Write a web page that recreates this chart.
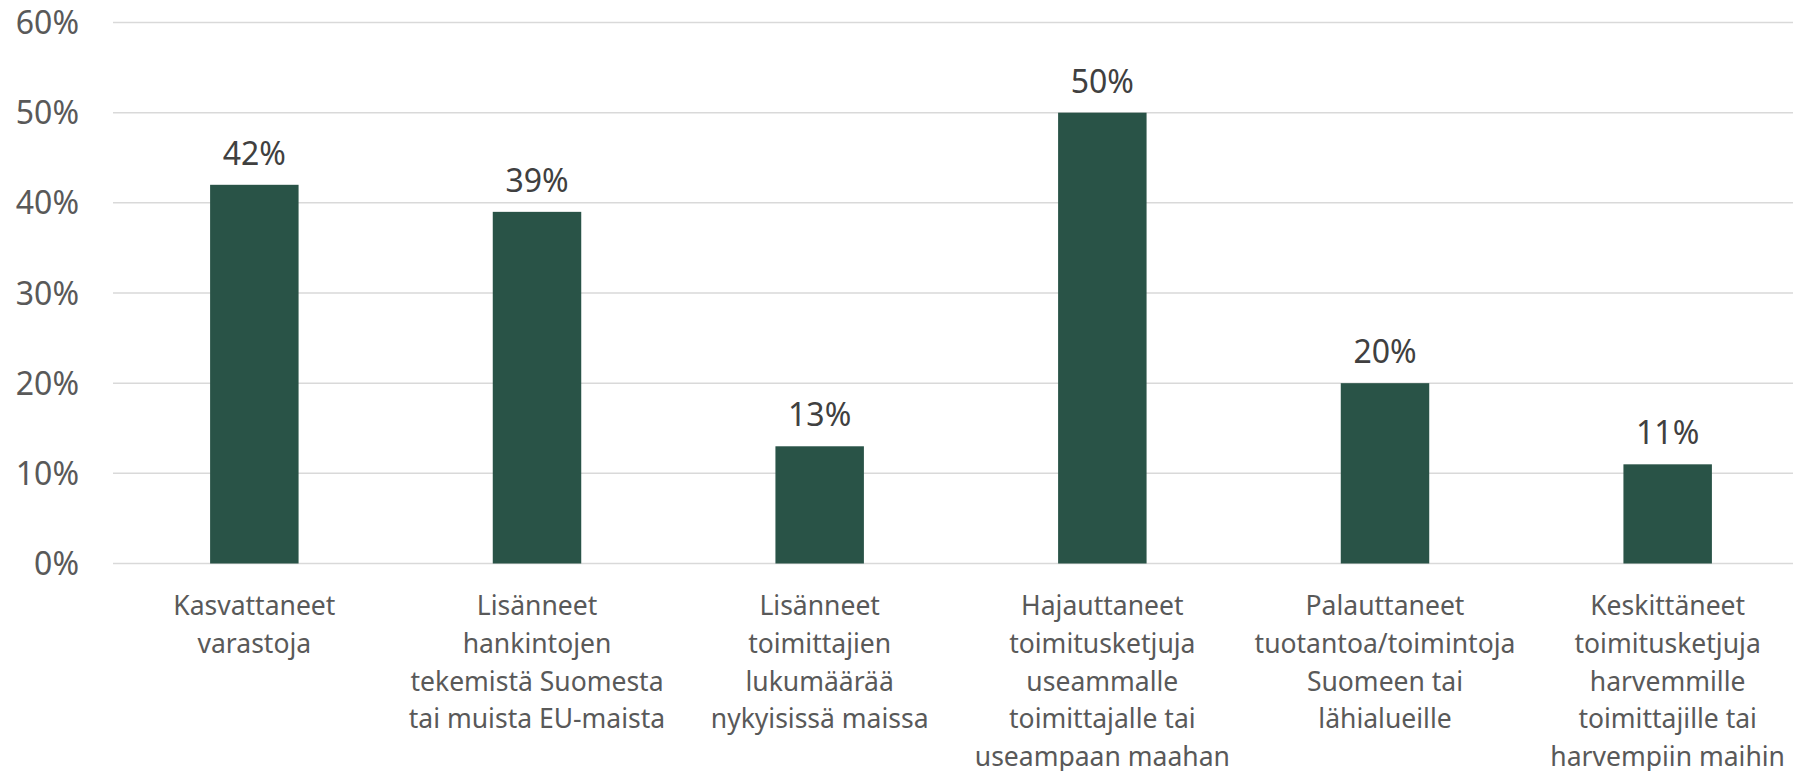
<!DOCTYPE html>
<html>
<head>
<meta charset="utf-8">
<script src="https://cdn.jsdelivr.net/npm/d3@7"></script>
<style>
    body { margin: 0; background: #fff; }
    svg { display: block; font-family: "Noto Sans", sans-serif; }
</style>
</head>
<body>
<div class="viz"></div>
<script>
// category labels, already split in lines like the original
const categories = [
    ["Kasvattaneet", "varastoja"],
    ["Lisänneet", "hankintojen", "tekemistä Suomesta", "tai muista EU-maista"],
    ["Lisänneet", "toimittajien", "lukumäärää", "nykyisissä maissa"],
    ["Hajauttaneet", "toimitusketjuja", "useammalle", "toimittajalle tai", "useampaan maahan"],
    ["Palauttaneet", "tuotantoa/toimintoja", "Suomeen tai", "lähialueille"],
    ["Keskittäneet", "toimitusketjuja", "harvemmille", "toimittajille tai", "harvempiin maihin"],
];
const values = [0.42, 0.39, 0.13, 0.50, 0.20, 0.11];
const yTicks = [0, 0.1, 0.2, 0.3, 0.4, 0.5, 0.6];

var width = 1793,
    height = 771,
    margin = { top: 22.5, left: 113, right: -16, bottom: 207.5 };

var svg = d3
    .select(".viz")
    .append("svg")
    .attr("width", width)
    .attr("height", height);

var x = d3
    .scaleBand()
    .domain(d3.range(categories.length))
    .range([margin.left, width - margin.right])
    .paddingInner(0.687)
    .paddingOuter(0.3435);

var y = d3
    .scaleLinear()
    .domain([0, 0.6])
    .range([height - margin.bottom, margin.top]);

var pct = d3.format(".0%");

// gridlines
svg.append("g")
    .selectAll("line")
    .data(yTicks)
    .enter()
    .append("line")
    .attr("x1", margin.left)
    .attr("x2", width - margin.right)
    .attr("y1", (d) => y(d))
    .attr("y2", (d) => y(d))
    .attr("stroke", "#d9d9d9")
    .attr("stroke-width", 1.5);

// y axis labels
svg.append("g")
    .selectAll("text")
    .data(yTicks)
    .enter()
    .append("text")
    .attr("x", 79)
    .attr("y", (d) => y(d))
    .attr("dy", "0.36em")
    .attr("text-anchor", "end")
    .attr("fill", "#595959")
    .style("font-size", "32px")
    .text(pct);

// bars
svg.append("g")
    .selectAll("rect")
    .data(values)
    .enter()
    .append("rect")
    .attr("x", (d, i) => x(i))
    .attr("width", x.bandwidth())
    .attr("y", (d) => y(d))
    .attr("height", (d) => y(0) - y(d))
    .attr("fill", "#295347");

// value labels
svg.append("g")
    .selectAll("text")
    .data(values)
    .enter()
    .append("text")
    .attr("x", (d, i) => x(i) + x.bandwidth() / 2)
    .attr("y", (d) => y(d) - 20)
    .attr("text-anchor", "middle")
    .attr("fill", "#404040")
    .style("font-size", "32px")
    .text(pct);

// category labels
var cat = svg
    .append("g")
    .selectAll("text")
    .data(categories)
    .enter()
    .append("text")
    .attr("x", (d, i) => x(i) + x.bandwidth() / 2)
    .attr("y", 615)
    .attr("text-anchor", "middle")
    .attr("fill", "#595959")
    .style("font-size", "26.5px");

cat.selectAll("tspan")
    .data((d) => d)
    .enter()
    .append("tspan")
    .attr("x", function () {
        return this.parentNode.getAttribute("x");
    })
    .attr("dy", (d, i) => (i === 0 ? 0 : 37.8))
    .text((d) => d);
</script>
</body>
</html>
